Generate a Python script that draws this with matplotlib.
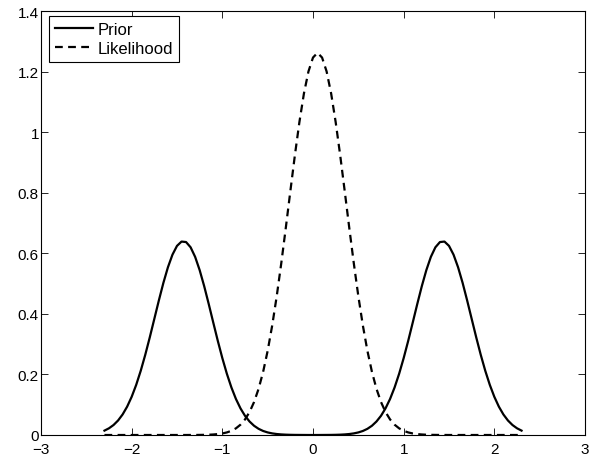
import matplotlib
matplotlib.use("Agg")
import matplotlib.pyplot as plt
import numpy as np

plt.rcParams['font.family'] = ['Liberation Sans', 'DejaVu Sans']

x_start, x_stop, x_step = -2.3, 2.3, 0.05
x_vals = np.round(np.arange(x_start, x_stop + x_step / 2, x_step), 2)

prior_left = [0.0145, 0.0222, 0.0330, 0.0479, 0.0678, 0.0936, 0.1261, 0.1656,
              0.2121, 0.2650, 0.3228, 0.3836, 0.4445, 0.5025, 0.5539, 0.5955,
              0.6245, 0.6387, 0.6371, 0.6198, 0.5882, 0.5443, 0.4913, 0.4324,
              0.3713, 0.3109, 0.2539, 0.2022, 0.1571, 0.1190, 0.0880, 0.0634,
              0.0446, 0.0305, 0.0204, 0.0133, 0.0085, 0.0053, 0.0032, 0.0019,
              0.0011, 0.0006, 0.0003, 0.0002, 0.0001, 0.0000, 0.0000]
prior_right = [0.0000, 0.0001, 0.0002, 0.0003, 0.0006, 0.0011, 0.0019, 0.0032,
               0.0053, 0.0085, 0.0133, 0.0204, 0.0305, 0.0446, 0.0634, 0.0880,
               0.1190, 0.1571, 0.2022, 0.2539, 0.3109, 0.3713, 0.4324, 0.4913,
               0.5443, 0.5882, 0.6198, 0.6371, 0.6387, 0.6245, 0.5955, 0.5539,
               0.5025, 0.4445, 0.3836, 0.3228, 0.2650, 0.2121, 0.1656, 0.1261,
               0.0936, 0.0678, 0.0479, 0.0330, 0.0222, 0.0145]
prior = prior_left + prior_right

likelihood = ([0.0] * 19 +
              [0.0001, 0.0001, 0.0003, 0.0005, 0.0009, 0.0017, 0.0030, 0.0051,
               0.0085, 0.0138, 0.0220, 0.0340, 0.0514, 0.0758, 0.1089, 0.1526,
               0.2086, 0.2781, 0.3616, 0.4585, 0.5671, 0.6840, 0.8047, 0.9233,
               1.0332, 1.1277, 1.2005, 1.2463, 1.2620, 1.2463, 1.2005, 1.1277,
               1.0332, 0.9233, 0.8047, 0.6840, 0.5671, 0.4585, 0.3616, 0.2781,
               0.2086, 0.1526, 0.1089, 0.0758, 0.0514, 0.0340, 0.0220, 0.0138,
               0.0085, 0.0051, 0.0030, 0.0017, 0.0009, 0.0005, 0.0003, 0.0001,
               0.0001] +
              [0.0] * 17)

x_ticks = [-3, -2, -1, 0, 1, 2, 3]
y_ticks = [0, 0.2, 0.4, 0.6, 0.8, 1.0, 1.2, 1.4]
y_tick_labels = ["0", "0.2", "0.4", "0.6", "0.8", "1", "1.2", "1.4"]

fig = plt.figure(figsize=(5.95, 4.6), dpi=100)
ax = fig.add_axes([41 / 595, 1 - 436 / 460, 544 / 595, 424 / 460])

ax.plot(x_vals, prior, color='black', lw=1.6, label='Prior')
ax.plot(x_vals, likelihood, color='black', lw=1.6, ls=(0, (3.5, 2.4)),
        label='Likelihood')

ax.set_xlim(-3, 3)
ax.set_ylim(0, 1.4)
ax.set_xticks(x_ticks)
ax.set_yticks(y_ticks)
ax.set_yticklabels(y_tick_labels)
ax.tick_params(direction='in', length=5, width=0.6, top=True, right=True,
               labelsize=11, colors='black')
ax.tick_params(axis='x', pad=5)
ax.tick_params(axis='y', pad=1.5)
for s in ax.spines.values():
    s.set_linewidth(0.8)

leg = ax.legend(loc='upper left', bbox_to_anchor=(8 / 544, 1 - 5 / 424),
                borderaxespad=0, fancybox=False, framealpha=1,
                edgecolor='black', fontsize=12, handlelength=2.3,
                handletextpad=0.25, borderpad=0.35, labelspacing=0.25)
leg.get_frame().set_linewidth(0.8)

fig.savefig('out.png', dpi=100)
